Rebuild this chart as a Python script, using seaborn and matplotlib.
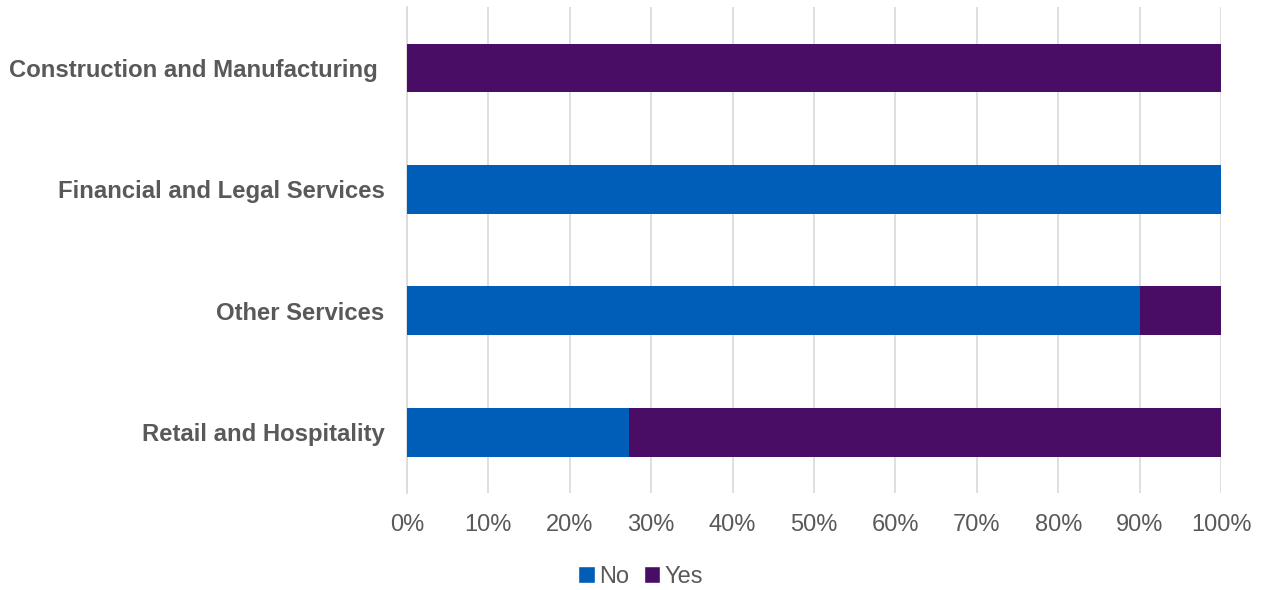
import matplotlib
matplotlib.use("Agg")
import matplotlib.pyplot as plt
import seaborn as sns
import pandas as pd
from matplotlib.ticker import PercentFormatter
from matplotlib.patches import Patch

sectors = ["Construction and Manufacturing ", "Financial and Legal Services",
           "Other Services", "Retail and Hospitality"]
no_share = [0.0, 100.0, 90.0, 27.3]
yes_share = [100.0, 0.0, 10.0, 72.7]

blue = "#005EB8"
purple = "#4A0D66"
text_grey = "#595959"
grid_grey = "#D9D9D9"

df = pd.DataFrame({"sector": sectors, "No": no_share, "Yes": yes_share})
df["total"] = df["No"] + df["Yes"]

sns.set_theme(style="white")
plt.rcParams["font.family"] = ["Liberation Sans", "DejaVu Sans"]

fig = plt.figure(figsize=(12.69, 5.90), dpi=100)
ax = fig.add_axes([0.3207, 0.1644, 0.6415, 0.8236])

# stacked bars: full length in purple (Yes), "No" share drawn over it in blue
sns.barplot(data=df, y="sector", x="total", orient="h", color=purple,
            width=0.4, saturation=1, ax=ax, linewidth=0, zorder=3)
sns.barplot(data=df, y="sector", x="No", orient="h", color=blue,
            width=0.4, saturation=1, ax=ax, linewidth=0, zorder=4)

ax.set_xlim(0, 100)
ax.set_ylim(3.5, -0.5)
ax.set_xticks(range(0, 101, 10))
ax.xaxis.set_major_formatter(PercentFormatter(decimals=0))
ax.grid(axis="x", color=grid_grey, linewidth=1.2, zorder=0)
ax.set_axisbelow(True)
for side in ["top", "right", "bottom"]:
    ax.spines[side].set_visible(False)
ax.spines["left"].set_color(grid_grey)
ax.spines["left"].set_linewidth(1.2)
ax.set_xlabel("")
ax.set_ylabel("")
ax.tick_params(axis="both", length=0)
ax.tick_params(axis="y", pad=16)
ax.tick_params(axis="x", pad=15)
for lbl in ax.get_yticklabels():
    lbl.set_fontsize(17.2)
    lbl.set_fontweight("bold")
    lbl.set_color(text_grey)
for lbl in ax.get_xticklabels():
    lbl.set_fontsize(17)
    lbl.set_color(text_grey)

handles = [Patch(facecolor=blue, label="No"), Patch(facecolor=purple, label="Yes")]
fig.legend(handles=handles, loc="center", bbox_to_anchor=(0.505, 0.022),
           ncol=2, frameon=False, fontsize=17, handlelength=0.7, handleheight=0.7,
           handletextpad=0.2, columnspacing=0.6, labelcolor=text_grey)

fig.savefig("out.png", dpi=100)
